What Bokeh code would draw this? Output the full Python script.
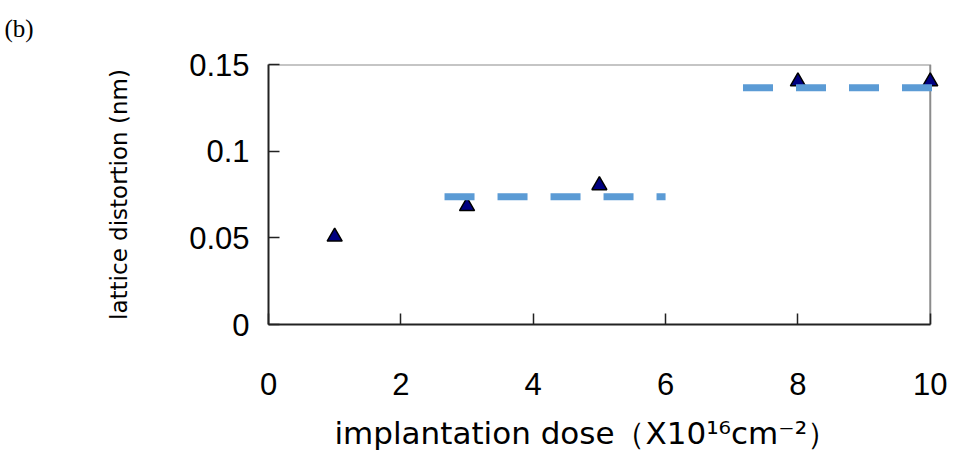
from bokeh.plotting import figure
from bokeh.models import Range1d, Title, FixedTicker
from bokeh.embed import file_html
from bokeh.resources import INLINE

# ---- data ----
dose = [1, 3, 5, 8, 10]
distortion = [0.0506, 0.0682, 0.0803, 0.1402, 0.1402]
fit1_x = [2.66, 6.0]
fit1_y = [0.0737, 0.0737]
fit2_x = [7.17, 10.07]
fit2_y = [0.1366, 0.1366]
x_ticks = [0, 2, 4, 6, 8, 10]
y_ticks = [0, 0.05, 0.1, 0.15]
y_tick_labels = ["0", "0.05", "0.1", "0.15"]
X_MAX = 10
Y_MAX = 0.15

p = figure(width=955, height=454, output_backend="svg", toolbar_location=None,
           x_range=Range1d(0, 10.2), y_range=Range1d(0, Y_MAX),
           min_border_left=268, min_border_right=12, min_border_top=64, min_border_bottom=130)
p.outline_line_color = None
p.xgrid.visible = False
p.ygrid.visible = False
p.background_fill_color = "white"
p.border_fill_color = "white"

# frame (top & right in gray)
p.line([0, X_MAX, X_MAX], [Y_MAX, Y_MAX, 0], line_color="#8c8c8c", line_width=2)

# data points
p.scatter(dose, distortion, marker="triangle", size=15, fill_color="#000080",
          line_color="black", line_width=1.5)

# dashed fit lines
for xs, ys in ((fit1_x, fit1_y), (fit2_x, fit2_y)):
    p.line(xs, ys, line_color="#5B9BD5", line_width=7, line_dash="30 23", line_cap="butt")

for ax in (p.xaxis[0], p.yaxis[0]):
    ax.axis_line_color = "#222222"
    ax.axis_line_width = 2
    ax.major_tick_line_color = "#222222"
    ax.major_tick_line_width = 1.5
    ax.major_tick_in = 11
    ax.major_tick_out = 0
    ax.minor_tick_line_color = None
    ax.major_label_text_font = "Liberation Sans"
    ax.major_label_text_font_size = "31px"
    ax.major_label_text_color = "black"
    ax.axis_label_text_font = "DejaVu Sans"
    ax.axis_label_text_font_style = "normal"
    ax.axis_label_text_color = "black"

p.xaxis[0].ticker = FixedTicker(ticks=x_ticks)
p.xaxis[0].bounds = (0, X_MAX)
p.xaxis[0].major_label_standoff = 48
# trailing no-break spaces shift the centred title slightly left, as in the reference
p.xaxis[0].axis_label = "implantation dose（X10¹⁶cm⁻²）" + "\u00a0" * 4
p.xaxis[0].axis_label_text_font_size = "31px"
p.xaxis[0].axis_label_standoff = 17

p.yaxis[0].ticker = FixedTicker(ticks=y_ticks)
p.yaxis[0].major_label_overrides = {t: l for t, l in zip(y_ticks, y_tick_labels)}
p.yaxis[0].major_label_standoff = 19
p.yaxis[0].axis_label = "lattice distortion (nm)"
p.yaxis[0].axis_label_text_font_size = "23px"
p.yaxis[0].axis_label_standoff = 54

# panel tag (the empty second line lifts it towards the top of the page)
p.title = Title(text="(b)\n", align="left", offset=-264, text_font="Liberation Serif",
                text_font_size="25px", text_font_style="normal", text_color="black",
                standoff=-8)

open("out.html", "w").write(file_html(p, INLINE))
